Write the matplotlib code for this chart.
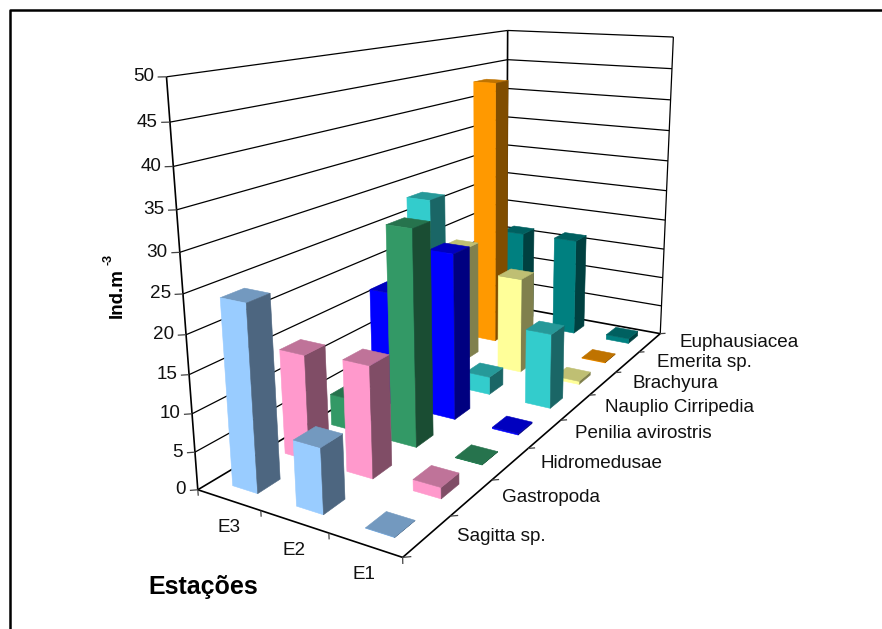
import numpy as np
import matplotlib
matplotlib.use('Agg')
import matplotlib.pyplot as plt
from matplotlib.lines import Line2D
from mpl_toolkits.mplot3d import proj3d
from mpl_toolkits.mplot3d.art3d import Poly3DCollection, Line3DCollection

plt.rcParams['font.family'] = ['Liberation Sans', 'DejaVu Sans']

stations = ['E3', 'E2', 'E1']
taxa = ['Sagitta sp.', 'Gastropoda', 'Hidromedusae', 'Penilia avirostris',
        'Nauplio Cirripedia', 'Brachyura', 'Emerita sp.', 'Euphausiacea']
e3 = [24.2, 14.4, 4.5, 16.8, 28.2, 18.4, 43.1, 16.2]
e2 = [8.5, 15, 29.8, 24, 2.7, 15, 0, 16.3]
e1 = [0.05, 1.5, 0.05, 0.2, 11.2, 0.5, 0.1, 0.8]
colors = ['#99CCFF', '#FF99CC', '#339966', '#0000FF',
          '#33CCCC', '#FFFF99', '#FF9900', '#008080']
z_ticks = [0, 5, 10, 15, 20, 25, 30, 35, 40, 45, 50]

# camera taken from the corners of the box in the picture (world -> pixel)
world = [(0, 0, 0), (3, 0, 0), (3, 8, 0), (0, 8, 0), (0, 0, 50), (0, 8, 50), (3, 8, 50),
         (0, 0, 25), (0, 8, 25), (3, 8, 25)]
pixel = [(197, 489), (403, 558), (660, 333), (507, 306), (167, 77), (507, 30), (674, 37),
         (183, 294), (507, 173), (666, 191)]
rows = []
for (x, y, z), (u, v) in zip(world, pixel):
    rows.append([x, y, z, 1, 0, 0, 0, 0, -u*x, -u*y, -u*z, -u])
    rows.append([0, 0, 0, 0, x, y, z, 1, -v*x, -v*y, -v*z, -v])
P = np.linalg.svd(np.array(rows, dtype=float))[2][-1].reshape(3, 4)
P = P / P[2, 3]
M = np.array([P[0], P[1], [1, -1, 0.02, 0], P[2]])

fig = plt.figure(figsize=(8.82, 6.29), dpi=100)
ax = fig.add_axes([0, 0, 1, 1], projection='3d')
ax.set_axis_off()
ax.set_xticks([])
ax.set_yticks([])
ax.set_zticks([])
ax.computed_zorder = False
ax.get_proj = lambda: M
ax.apply_aspect = lambda position=None: None
ax.viewLim.intervalx = (0, 882)
ax.viewLim.intervaly = (629, 0)


def lines(segs, lw=0.9, color='black'):
    ax.add_collection3d(Line3DCollection(segs, colors=color, linewidths=lw, zorder=1))


def px(x, y, z):
    u, v, _ = proj3d.proj_transform(x, y, z, M)
    return float(u), float(v)


def label(x, y, z, s, dx=0, dy=0, **kw):
    u, v = px(x, y, z)
    ax.text2D(u + dx, v + dy, s, transform=ax.transData, color='#111111',
              va='center', fontsize=13.6, **kw)


# walls
lines([[(0, 0, z), (0, 8, z)] for z in z_ticks[1:]] + [[(0, 8, z), (3, 8, z)] for z in z_ticks[1:]])
lines([[(0, 0, 0), (0, 8, 0)], [(0, 8, 0), (3, 8, 0)], [(0, 0, 0), (3, 0, 0)], [(3, 0, 0), (3, 8, 0)],
       [(0, 0, 0), (0, 0, 50)], [(0, 8, 0), (0, 8, 50)]], lw=1.2)
lines([[(3, 8, 0), (3, 8, 50)]])
lines([[(-0.073, -0.06, z), (0, 0, z)] for z in z_ticks], color='#444444')
lines([[(i, 0, 0), (i, 0, -0.8)] for i in range(4)], color='#444444')
lines([[(3, i, 0), (3.073, i + 0.06, 0)] for i in range(9)], color='#444444')


def shade(c, f):
    return tuple(np.array(matplotlib.colors.to_rgb(c)) * f)


# bars, back to front
width, depth = 0.4, 0.42
order = 10
for j in range(7, -1, -1):
    for i, vals in enumerate([e3, e2, e1]):
        h = vals[j]
        if h <= 0:
            continue
        x0, x1 = i + 0.5 - width/2, i + 0.5 + width/2
        y0, y1 = j + 0.5 - depth/2, j + 0.5 + depth/2
        faces = [[(x0, y0, 0), (x1, y0, 0), (x1, y0, h), (x0, y0, h)],
                 [(x1, y0, 0), (x1, y1, 0), (x1, y1, h), (x1, y0, h)],
                 [(x0, y0, h), (x1, y0, h), (x1, y1, h), (x0, y1, h)]]
        fc = [colors[j], shade(colors[j], 0.5), shade(colors[j], 0.75)]
        ax.add_collection3d(Poly3DCollection(faces, facecolors=fc, edgecolors=fc,
                                             linewidths=0.4, zorder=order))
        order += 1

# labels
for z in z_ticks:
    label(0, 0, z, str(z), dx=-12, ha='right')
for i, s in enumerate(stations):
    label(i + 0.5, 0, -3.7, s, dx=-2, ha='center')
for j, s in enumerate(taxa):
    label(3, j + 0.5, 0, s, dx=30, ha='left')

fig.text(117/882, 1 - 293/629, 'Ind.m', rotation=90, ha='center', va='center',
         fontsize=13.5, fontweight='bold')
fig.text(109/882, 1 - 259/629, '-3', rotation=90, ha='center', va='center',
         fontsize=9, fontweight='bold')
fig.text(148/882, 1 - 587/629, 'Estações', ha='left', va='center',
         fontsize=18, fontweight='bold')

# outer frame: only the top and left edges show
fx = [9.5/882, 9.5/882, 1]
fy = [0, 1 - 9.5/629, 1 - 9.5/629]
fig.add_artist(Line2D(fx, fy, color='black', lw=1.8))

fig.savefig('out.png', dpi=100)
